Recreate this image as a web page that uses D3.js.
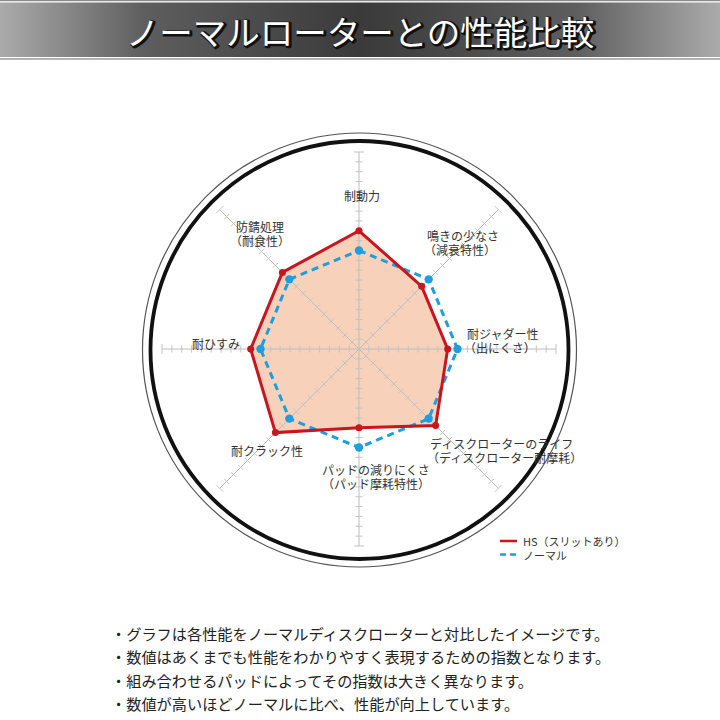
<!DOCTYPE html>
<html>
<head>
<meta charset="utf-8">
<script src="https://cdn.jsdelivr.net/npm/d3@7"></script>
<style>
  html, body { margin: 0; padding: 0; background: #fff; }
  svg { display: block; }
</style>
</head>
<body>
<svg id="chart"></svg>
<script>
// chart values
const axisNames = ["制動力", "鳴きの少なさ", "耐ジャダー性", "ディスクローターのライフ",
                   "パッドの減りにくさ", "耐クラック性", "耐ひすみ", "防錆処理"];
const axisSubNames = ["", "（減衰特性）", "（出にくさ）", "（ディスクローター耐摩耗）",
                      "（パッド摩耗特性）", "", "", "（耐食性）"];
const hsValues = [6, 4.5, 4.5, 5.5, 4, 6, 5.5, 5.5];
const normalValues = [5, 5, 5, 5, 5, 5, 5, 5];
const tickSteps = [0.5, 1, 1.5, 2, 2.5, 3, 3.5, 4, 4.5, 5, 5.5, 6, 6.5, 7, 7.5, 8, 8.5, 9, 9.5, 10];
const seriesNames = ["HS（スリットあり）", "ノーマル"];
const notes = [
    "・グラフは各性能をノーマルディスクローターと対比したイメージです。",
    "・数値はあくまでも性能をわかりやすく表現するための指数となります。",
    "・組み合わせるパッドによってその指数は大きく異なります。",
    "・数値が高いほどノーマルに比べ、性能が向上しています。"
];
const title = "ノーマルローターとの性能比較";

// where the axis labels sit: [x, y of first line, anchor]
const labelLayout = [
    [362, 195, "middle"], [427, 235, "start"], [467, 333, "start"], [430, 443, "start"],
    [376, 469, "middle"], [267, 450, "middle"], [240, 343, "end"], [260, 226, "middle"]
];

const width = 720, height = 720;
const cx = 359, cy = 349;
const font = "'Noto Sans CJK JP', 'Noto Sans', sans-serif";

const svg = d3.select("#chart")
    .attr("width", width)
    .attr("height", height)
    .style("font-family", font);

// title bar
const defs = svg.append("defs");
const grad = defs.append("linearGradient").attr("id", "barGrad")
    .attr("x1", "0%").attr("x2", "100%").attr("y1", "0%").attr("y2", "0%");
[["0%", "#ababab"], ["20%", "#5e5e5e"], ["50%", "#3a3a3a"], ["80%", "#5e5e5e"], ["100%", "#ababab"]]
    .forEach(s => grad.append("stop").attr("offset", s[0]).attr("stop-color", s[1]));

svg.append("rect").attr("x", 0).attr("y", 0).attr("width", width).attr("height", 1.2).attr("fill", "#8a8a8a");
svg.append("rect").attr("x", 0).attr("y", 2.5).attr("width", width).attr("height", 54.5).attr("fill", "url(#barGrad)");
svg.append("rect").attr("x", 0).attr("y", 58.3).attr("width", width).attr("height", 1.3).attr("fill", "#8a8a8a");

svg.append("text")
    .attr("x", width / 2 + 1.5).attr("y", 31.5)
    .attr("text-anchor", "middle").attr("dominant-baseline", "central")
    .attr("font-size", 33.5).attr("fill", "none")
    .attr("stroke", "#111").attr("stroke-width", 3).attr("stroke-linejoin", "round")
    .text(title);
svg.append("text")
    .attr("x", width / 2).attr("y", 30)
    .attr("text-anchor", "middle").attr("dominant-baseline", "central")
    .attr("font-size", 33.5).attr("fill", "#fff")
    .text(title);

// outer ring
svg.append("circle").attr("cx", cx + 0.5).attr("cy", cy + 1).attr("r", 217)
    .attr("fill", "none").attr("stroke", "#555").attr("stroke-width", 1.2);
svg.append("circle").attr("cx", cx + 0.5).attr("cy", cy + 1).attr("r", 209)
    .attr("fill", "none").attr("stroke", "#111").attr("stroke-width", 3.8);

// radar
const r = d3.scaleLinear().domain([0, 10]).range([0, 197]);
const angle = d3.scalePoint().domain(d3.range(axisNames.length)).range([0, 2 * Math.PI * (axisNames.length - 1) / axisNames.length]);
const g = svg.append("g").attr("transform", `translate(${cx},${cy})`);

const pt = (i, v) => [Math.sin(angle(i)) * r(v), -Math.cos(angle(i)) * r(v)];
const radial = d3.lineRadial().angle((d, i) => angle(i)).radius(d => r(d)).curve(d3.curveLinearClosed);

// HS fill under the grid
g.append("path").datum(hsValues)
    .attr("d", radial)
    .attr("fill", "#f8d1ba");

// axes and ticks
const grid = g.append("g");
axisNames.forEach((name, i) => {
    const [x2, y2] = pt(i, 10);
    grid.append("line").attr("x1", 0).attr("y1", 0).attr("x2", x2).attr("y2", y2)
        .attr("stroke", "#bdbdbd").attr("stroke-width", 1);
    const a = angle(i);
    const px = Math.cos(a), py = Math.sin(a);
    grid.selectAll(null).data(tickSteps).enter().append("line")
        .attr("x1", d => pt(i, d)[0] - px * (d === 10 ? 5 : 3.5))
        .attr("y1", d => pt(i, d)[1] - py * (d === 10 ? 5 : 3.5))
        .attr("x2", d => pt(i, d)[0] + px * (d === 10 ? 5 : 3.5))
        .attr("y2", d => pt(i, d)[1] + py * (d === 10 ? 5 : 3.5))
        .attr("stroke", "#c4c4c4").attr("stroke-width", 1);
});

// normal series (dashed blue)
g.append("path").datum(normalValues)
    .attr("d", radial)
    .attr("fill", "none").attr("stroke", "#1d9fdf").attr("stroke-width", 3)
    .attr("stroke-dasharray", "7,5");
g.selectAll(".ndot").data(normalValues).enter().append("circle")
    .attr("class", "ndot")
    .attr("cx", (d, i) => pt(i, d)[0]).attr("cy", (d, i) => pt(i, d)[1])
    .attr("r", 4.2).attr("fill", "#1d9fdf");

// HS series (red)
g.append("path").datum(hsValues)
    .attr("d", radial)
    .attr("fill", "none").attr("stroke", "#c9151e").attr("stroke-width", 3)
    .attr("stroke-linejoin", "miter");
g.selectAll(".hdot").data(hsValues).enter().append("circle")
    .attr("class", "hdot")
    .attr("cx", (d, i) => pt(i, d)[0]).attr("cy", (d, i) => pt(i, d)[1])
    .attr("r", 3.5).attr("fill", "#c9151e");

// axis labels, one text per line
axisNames.forEach((name, i) => {
    const [x, y, anchor] = labelLayout[i];
    svg.append("text")
        .attr("x", x).attr("y", y)
        .attr("text-anchor", anchor).attr("dominant-baseline", "central")
        .attr("font-size", 12).attr("fill", "#333")
        .text(name);
    if (axisSubNames[i]) {
        svg.append("text")
            .attr("x", anchor === "start" ? x - 3 : x).attr("y", y + 14.5)
            .attr("text-anchor", anchor).attr("dominant-baseline", "central")
            .attr("font-size", 12).attr("fill", "#333")
            .text(axisSubNames[i]);
    }
});

// legend
const legend = svg.append("g").attr("transform", "translate(500,541)");
legend.append("line").attr("x1", 0).attr("x2", 17).attr("y1", 0).attr("y2", 0)
    .attr("stroke", "#c9151e").attr("stroke-width", 2.5);
legend.append("line").attr("x1", 0).attr("x2", 17).attr("y1", 13.5).attr("y2", 13.5)
    .attr("stroke", "#1d9fdf").attr("stroke-width", 2.5).attr("stroke-dasharray", "6,4");
legend.selectAll("text").data(seriesNames).enter().append("text")
    .attr("x", 23).attr("y", (d, i) => i * 13.5)
    .attr("dominant-baseline", "central")
    .attr("font-size", 11).attr("fill", "#333")
    .text(d => d);

// notes
svg.selectAll(".note").data(notes).enter().append("text")
    .attr("class", "note")
    .attr("x", 111).attr("y", (d, i) => 633 + i * 23.4)
    .attr("dominant-baseline", "central")
    .attr("font-size", 15.2).attr("fill", "#222")
    .text(d => d);
</script>
</body>
</html>
